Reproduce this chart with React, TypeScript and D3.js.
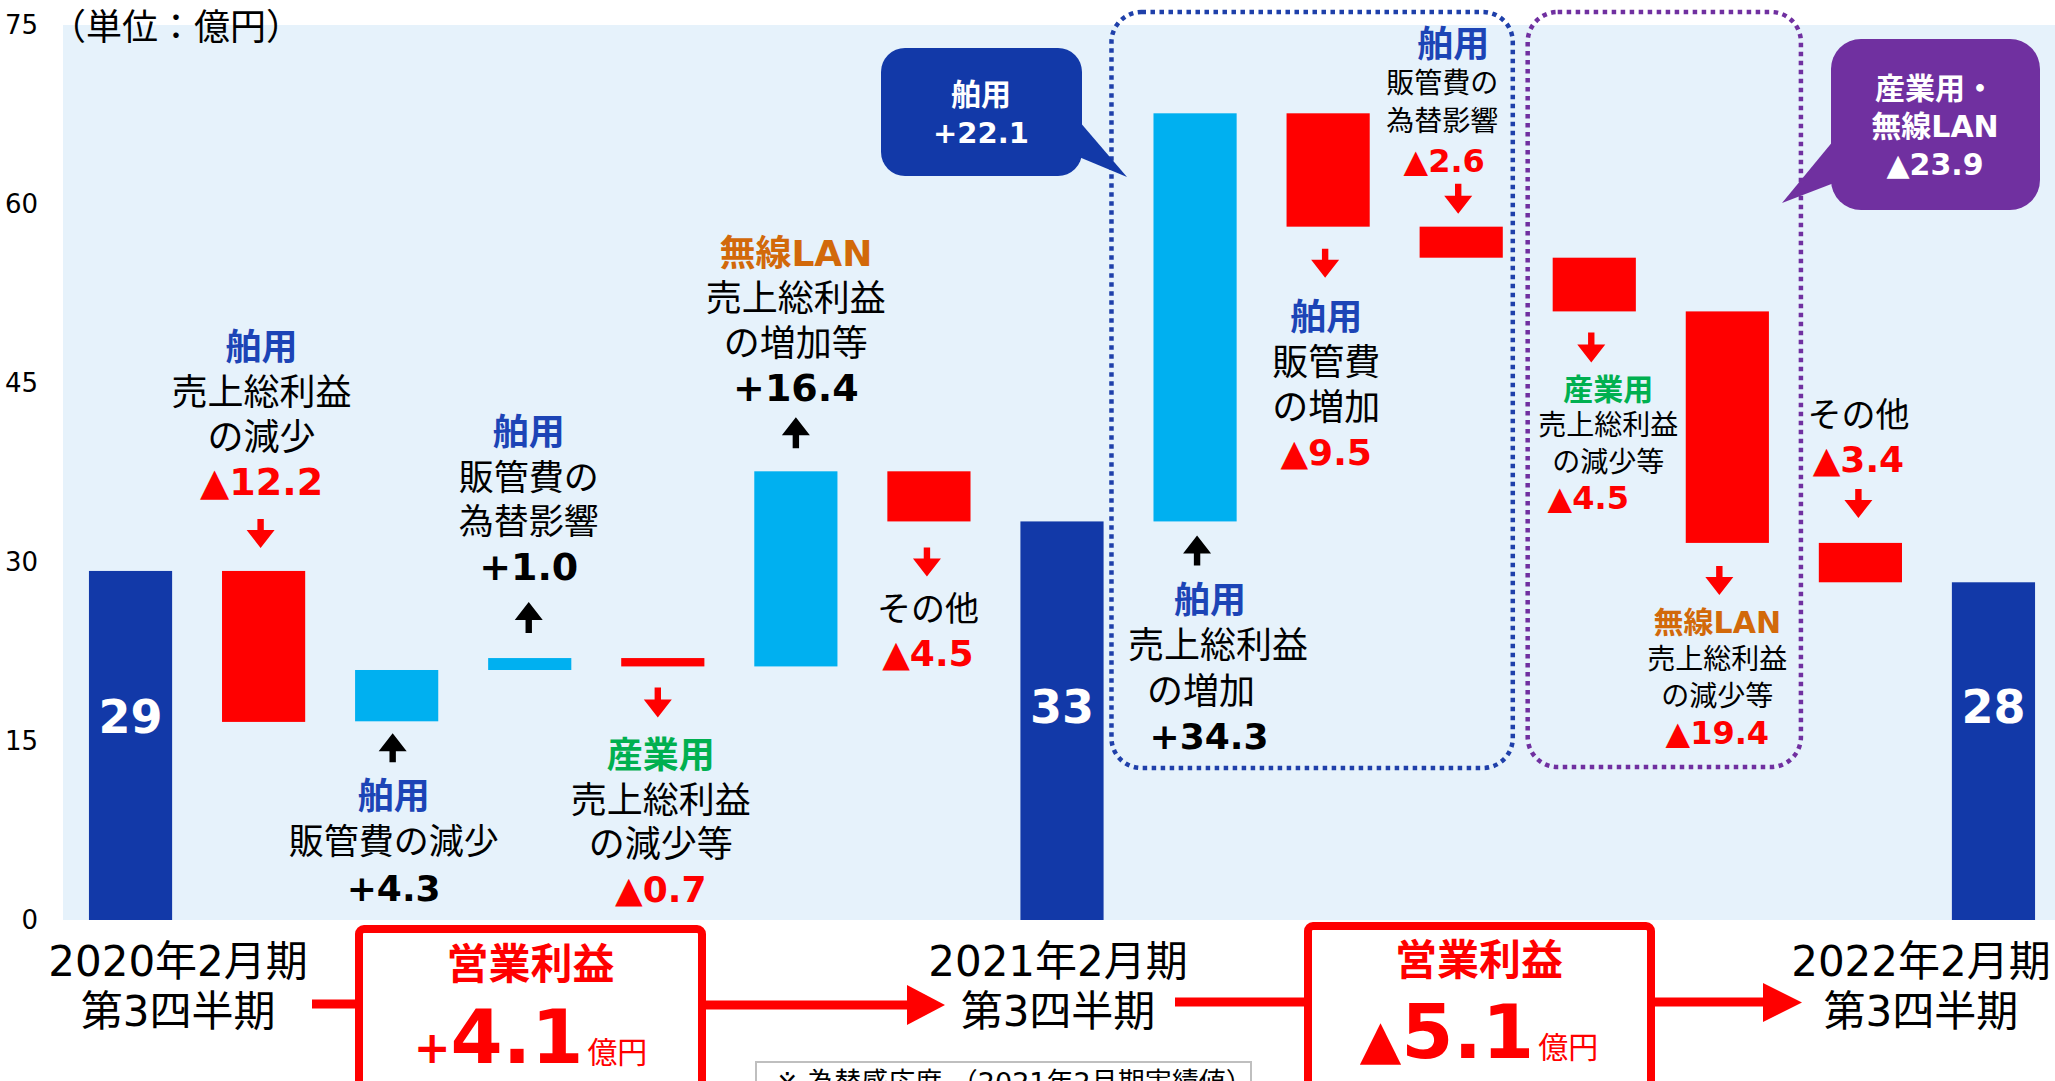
import React from 'react';
import * as d3 from 'd3';

// ---------------- data ----------------
const categories = ['2020Q3', 'ship_gp1', 'ship_sga1', 'ship_fx1', 'ind_gp1', 'wlan_gp1', 'other1', '2021Q3', 'ship_gp2', 'ship_sga2', 'ship_fx2', 'ind_gp2', 'wlan_gp2', 'other2', '2022Q3'];
const barLow = [0, 16.6, 16.65, 20.95, 21.25, 21.25, 33.4, 0, 33.4, 58.1, 55.5, 51.0, 31.6, 28.3, 0];
const barHigh = [29.25, 29.25, 20.95, 21.95, 21.95, 37.6, 37.6, 33.4, 67.6, 67.6, 58.1, 55.5, 51.0, 31.6, 28.3];
const barKind = ['total', 'down', 'up', 'up', 'down', 'up', 'down', 'total', 'up', 'down', 'down', 'down', 'down', 'down', 'total'];
const totalLabels = ['29', '', '', '', '', '', '', '33', '', '', '', '', '', '', '28'];
const deltaLabels = ['', '▲12.2', '+4.3', '+1.0', '▲0.7', '+16.4', '▲4.5', '', '+34.3', '▲9.5', '▲2.6', '▲4.5', '▲19.4', '▲3.4', ''];
const segmentLabels = ['', '舶用', '舶用', '舶用', '産業用', '無線LAN', '', '', '舶用', '舶用', '舶用', '産業用', '無線LAN', '', ''];
const descLines: string[][] = [
  [], ['売上総利益', 'の減少'], ['販管費の減少'], ['販管費の', '為替影響'], ['売上総利益', 'の減少等'],
  ['売上総利益', 'の増加等'], ['その他'], [], ['売上総利益', 'の増加'], ['販管費', 'の増加'],
  ['販管費の', '為替影響'], ['売上総利益', 'の減少等'], ['売上総利益', 'の減少等'], ['その他'], [],
];
const yTicks = [0, 15, 30, 45, 60, 75];
const unitLabel = '（単位：億円）';
const periodLine1 = ['2020年2月期', '2021年2月期', '2022年2月期'];
const periodLine2 = '第3四半期';
const opTitle = '営業利益';
const opSign = ['+', '▲'];
const opValue = ['4.1', '5.1'];
const opUnit = '億円';
const shipCallout = ['舶用', '+22.1'];
const indCallout = ['産業用・', '無線LAN', '▲23.9'];
const noteText = '※ 為替感応度 （2021年2月期実績値）';

// ---------------- styles / layout ----------------
const W = 2055;
const H = 1081;
const FONT = "'DejaVu Sans', 'Noto Sans CJK JP', sans-serif";
const C_DARK = '#1239A8';
const C_LIGHT = '#00B0F0';
const C_RED = '#FF0000';
const C_BG = '#E6F2FB';
const C_SEG: Record<string, string> = { '舶用': '#1C44B6', '産業用': '#00B050', '無線LAN': '#D2690A' };
const C_PURPLE = '#7030A0';

type Ann = { side: 'top' | 'bottom'; adx: number; ag: number; al: number; tg: number; lg: number; fs: number[]; dx: number[] };
const annLayout: Record<number, Ann> = {
  1: { side: 'top', adx: -3, ag: 23, al: 29, tg: 89, lg: 44.7, fs: [36, 36, 38], dx: [-2] },
  2: { side: 'bottom', adx: -4, ag: 12, al: 29, tg: 75, lg: 46, fs: [36, 35, 36], dx: [-3] },
  3: { side: 'top', adx: -1, ag: 25, al: 31, tg: 91, lg: 44.7, fs: [36, 35, 38], dx: [-1] },
  4: { side: 'bottom', adx: -5, ag: 21, al: 30, tg: 89, lg: 44.7, fs: [36, 36, 36], dx: [-2] },
  5: { side: 'top', adx: 0, ag: 23, al: 31, tg: 83, lg: 45, fs: [36, 36, 38], dx: [0] },
  6: { side: 'bottom', adx: -2, ag: 26, al: 29, tg: 88, lg: 44, fs: [36, 34, 36], dx: [-1] },
  8: { side: 'bottom', adx: 2, ag: 14, al: 30, tg: 79, lg: 45.3, fs: [36, 36, 36], dx: [15, 23, 6, 14] },
  9: { side: 'bottom', adx: -3, ag: 22, al: 29, tg: 91, lg: 45, fs: [36, 36, 36], dx: [-2] },
  10: { side: 'top', adx: -3, ag: 13, al: 30, tg: 66, lg: 38.7, fs: [36, 28, 32], dx: [-8, -19, -19, -17] },
  11: { side: 'bottom', adx: -3, ag: 21, al: 30, tg: 78, lg: 36.3, fs: [30, 28, 32], dx: [14, 14, 14, -6] },
  12: { side: 'bottom', adx: -8, ag: 23, al: 29, tg: 80, lg: 36.7, fs: [30, 28, 32], dx: [-10] },
  13: { side: 'top', adx: -2, ag: 25, al: 29, tg: 83, lg: 45, fs: [36, 34, 36], dx: [-2] },
};

const Arrow = ({ x, y1, y2, dir, color }: { x: number; y1: number; y2: number; dir: string; color: string }) => {
  const hw = 14, hl = 18, sw = 3.2;
  const d = dir === 'down'
    ? `M${x - sw},${y1} L${x + sw},${y1} L${x + sw},${y2 - hl} L${x + hw},${y2 - hl} L${x},${y2} L${x - hw},${y2 - hl} L${x - sw},${y2 - hl} Z`
    : `M${x - sw},${y2} L${x + sw},${y2} L${x + sw},${y1 + hl} L${x + hw},${y1 + hl} L${x},${y1} L${x - hw},${y1 + hl} L${x - sw},${y1 + hl} Z`;
  return <path d={d} fill={color} />;
};

export default function App() {
  const x = d3.scaleBand<string>().domain(categories).range([64, 2060]).paddingInner(0.375).paddingOuter(0.1875);
  const y = d3.scaleLinear().domain([0, 75]).range([920, 25]);
  const bw = x.bandwidth();
  const cx = (i: number) => (x(categories[i]) as number) + bw / 2;

  const annotations: JSX.Element[] = [];
  Object.keys(annLayout).forEach((k) => {
    const i = +k;
    const L = annLayout[i];
    const up = barKind[i] === 'up';
    const numColor = up ? '#000' : C_RED;
    const lines: { t: string; c: string; w: string; fs: number }[] = [];
    if (segmentLabels[i]) lines.push({ t: segmentLabels[i], c: C_SEG[segmentLabels[i]], w: 'bold', fs: L.fs[0] });
    descLines[i].forEach((t) => lines.push({ t, c: '#000', w: 'normal', fs: L.fs[1] }));
    lines.push({ t: deltaLabels[i], c: numColor, w: 'bold', fs: L.fs[2] });
    const edge = L.side === 'top' ? y(barHigh[i]) : y(barLow[i]);
    let ay1: number, ay2: number;
    if (L.side === 'top') { ay2 = edge - L.ag; ay1 = ay2 - L.al; } else { ay1 = edge + L.ag; ay2 = ay1 + L.al; }
    annotations.push(<Arrow key={`a${i}`} x={cx(i) + L.adx} y1={ay1} y2={ay2} dir={up ? 'up' : 'down'} color={up ? '#000' : C_RED} />);
    const n = lines.length;
    lines.forEach((ln, j) => {
      const ly = L.side === 'top' ? edge - L.tg - (n - 1 - j) * L.lg : edge + L.tg + j * L.lg;
      const dx = L.dx.length > 1 ? L.dx[j] : L.dx[0];
      annotations.push(
        <text key={`t${i}_${j}`} x={cx(i) + dx} y={ly} textAnchor="middle" dominantBaseline="central"
          fontSize={ln.fs} fontWeight={ln.w} fill={ln.c} fontFamily={FONT}>{ln.t}</text>
      );
    });
  });

  const blueBox = { x1: (x(categories[8]) as number) - 42, x2: (x(categories[10]) as number) + bw + 10, y1: 12, y2: 768 };
  const purpleBox = { x1: (x(categories[11]) as number) - 25, x2: (x(categories[12]) as number) + bw + 32, y1: 12, y2: 767 };
  const periodX = [cx(0) + 47.5, cx(7) - 4, cx(14) - 72.5];

  return (
    <svg width={W} height={H} style={{ position: 'absolute', left: 0, top: 0, display: 'block', background: '#fff' }} fontFamily={FONT}>
      {/* plot background */}
      <rect x={63} y={y(75)} width={W - 63} height={y(0) - y(75)} fill={C_BG} />
      {/* y tick labels */}
      {yTicks.map((t) => (
        <text key={t} x={38} y={y(t)} textAnchor="end" dominantBaseline="central" fontSize={26} fill="#000">{t}</text>
      ))}
      <text x={50} y={27} dominantBaseline="central" fontSize={36} fill="#000">{unitLabel}</text>

      {/* bars */}
      {categories.map((c, i) => (
        <rect key={c} x={x(c)} y={y(barHigh[i])} width={bw} height={y(barLow[i]) - y(barHigh[i])}
          fill={barKind[i] === 'total' ? C_DARK : barKind[i] === 'up' ? C_LIGHT : C_RED} />
      ))}
      {categories.map((c, i) => totalLabels[i] ? (
        <text key={`v${c}`} x={cx(i)} y={i === 0 ? 717 : 707} textAnchor="middle" dominantBaseline="central" fontSize={46} fontWeight="bold" fill="#fff">{totalLabels[i]}</text>
      ) : null)}

      {/* dotted group boxes */}
      <rect x={blueBox.x1} y={blueBox.y1} width={blueBox.x2 - blueBox.x1} height={blueBox.y2 - blueBox.y1} rx={30}
        fill="none" stroke="#1F40AA" strokeWidth={4.5} strokeDasharray="4.5 4.5" />
      <rect x={purpleBox.x1} y={purpleBox.y1} width={purpleBox.x2 - purpleBox.x1} height={purpleBox.y2 - purpleBox.y1} rx={30}
        fill="none" stroke={C_PURPLE} strokeWidth={4.5} strokeDasharray="4.5 4.5" />

      {annotations}

      {/* callouts */}
      <g>
        <rect x={881} y={48} width={201} height={128} rx={24} fill={C_DARK} />
        <polygon points="1079,121 1127,177 1079,157" fill={C_DARK} />
        <text x={981} y={94} textAnchor="middle" dominantBaseline="central" fontSize={30} fontWeight="bold" fill="#fff">{shipCallout[0]}</text>
        <text x={981} y={133} textAnchor="middle" dominantBaseline="central" fontSize={29} fontWeight="bold" fill="#fff">{shipCallout[1]}</text>
      </g>
      <g>
        <rect x={1831} y={39} width={209} height={171} rx={30} fill={C_PURPLE} />
        <polygon points="1834,140 1782,203 1834,183" fill={C_PURPLE} />
        {indCallout.map((t, j) => (
          <text key={t} x={1935} y={88 + j * 38} textAnchor="middle" dominantBaseline="central" fontSize={30} fontWeight="bold" fill="#fff">{t}</text>
        ))}
      </g>

      {/* period labels */}
      {periodX.map((px, k) => (
        <g key={`p${k}`}>
          <text x={px} y={961} textAnchor="middle" dominantBaseline="central" fontSize={42} fill="#000">{periodLine1[k]}</text>
          <text x={px} y={1011} textAnchor="middle" dominantBaseline="central" fontSize={42} fill="#000">{periodLine2}</text>
        </g>
      ))}

      {/* flow arrows */}
      <line x1={312} y1={1004} x2={360} y2={1004} stroke={C_RED} strokeWidth={9} />
      <line x1={700} y1={1005} x2={909} y2={1005} stroke={C_RED} strokeWidth={9} />
      <polygon points="907,985 945,1005 907,1025" fill={C_RED} />
      <line x1={1175} y1={1002} x2={1309} y2={1002} stroke={C_RED} strokeWidth={9} />
      <line x1={1650} y1={1002} x2={1765} y2={1002} stroke={C_RED} strokeWidth={9} />
      <polygon points="1763,983 1802,1002.5 1763,1022" fill={C_RED} />

      {/* operating profit boxes */}
      {[{ bx: 359, by: 929, cxm: 530.5, ty: 964, base: 1063, sfs: 44 }, { bx: 1308, by: 926, cxm: 1479, ty: 960, base: 1058, sfs: 54 }].map((b, k) => (
        <g key={`b${k}`}>
          <rect x={b.bx} y={b.by} width={343} height={220} rx={5} fill="#fff" stroke={C_RED} strokeWidth={8} />
          <text x={b.cxm} y={b.ty} textAnchor="middle" dominantBaseline="central" fontSize={42} fontWeight="bold" fill={C_RED}>{opTitle}</text>
          <text x={b.cxm} y={b.base} textAnchor="middle" fill={C_RED}>
            <tspan fontSize={b.sfs} fontWeight="bold">{opSign[k]}</tspan>
            <tspan fontSize={75} fontWeight="bold">{opValue[k]}</tspan>
            <tspan fontSize={30} dx={4}>{opUnit}</tspan>
          </text>
        </g>
      ))}

      {/* note */}
      <rect x={756} y={1062} width={495} height={40} fill="#fff" stroke="#BFBFBF" strokeWidth={2} />
      <text x={776} y={1092} fontSize={27} fill="#000">{noteText}</text>
    </svg>
  );
}
